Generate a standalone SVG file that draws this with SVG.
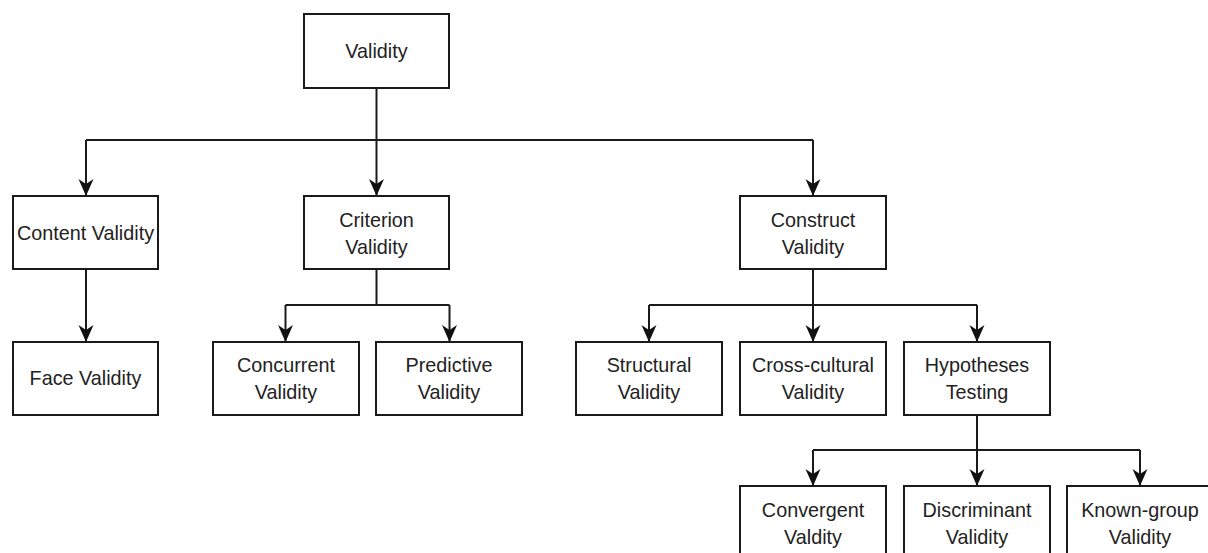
<svg xmlns="http://www.w3.org/2000/svg" width="1208" height="553" viewBox="0 0 1208 553">
  <style>
    .box { fill: #ffffff; stroke: #1a1a1a; stroke-width: 2; }
    .label { font-family: "Liberation Sans", Arial, sans-serif; font-size: 19.8px; fill: #222222; text-anchor: middle; }
    .edge { fill: none; stroke: #1a1a1a; stroke-width: 2; }
  </style>
  <defs>
    <marker id="arrow" viewBox="0 0 17 16" markerWidth="17" markerHeight="16" refX="17" refY="8" orient="auto" markerUnits="userSpaceOnUse">
      <path d="M0,0.5 L17,8 L0,15.5 L5,8 Z" fill="#111111"/>
    </marker>
  </defs>
  <rect width="1208" height="553" fill="#ffffff"/>

  <!-- connectors -->
  <g id="connectors">
    <!-- Validity to its three branches -->
    <path class="edge" d="M376.5,88 V140"/>
    <path class="edge" d="M86,140 H813"/>
    <path class="edge" d="M86,140 V196" marker-end="url(#arrow)"/>
    <path class="edge" d="M376.5,140 V196" marker-end="url(#arrow)"/>
    <path class="edge" d="M813,140 V196" marker-end="url(#arrow)"/>
    <!-- Content -> Face -->
    <path class="edge" d="M86,269 V342" marker-end="url(#arrow)"/>
    <!-- Criterion children -->
    <path class="edge" d="M376.5,269 V305 M285.5,305 H449.5"/>
    <path class="edge" d="M285.5,305 V342" marker-end="url(#arrow)"/>
    <path class="edge" d="M449.5,305 V342" marker-end="url(#arrow)"/>
    <!-- Construct children -->
    <path class="edge" d="M813,269 V305 M649,305 H977"/>
    <path class="edge" d="M649,305 V342" marker-end="url(#arrow)"/>
    <path class="edge" d="M813,305 V342" marker-end="url(#arrow)"/>
    <path class="edge" d="M977,305 V342" marker-end="url(#arrow)"/>
    <!-- Hypotheses Testing children -->
    <path class="edge" d="M977,415 V450 M813,450 H1140"/>
    <path class="edge" d="M813,450 V486" marker-end="url(#arrow)"/>
    <path class="edge" d="M977,450 V486" marker-end="url(#arrow)"/>
    <path class="edge" d="M1140,450 V486" marker-end="url(#arrow)"/>
  </g>

  <g id="validity">
    <rect class="box" x="304" y="14" width="145" height="74"/>
    <text class="label" x="376.5" y="58">Validity</text>
  </g>

  <g id="content-validity">
    <rect class="box" x="13" y="196" width="145" height="73"/>
    <text class="label" x="85.5" y="240">Content Validity</text>
  </g>

  <g id="criterion-validity">
    <rect class="box" x="304" y="196" width="145" height="73"/>
    <text class="label" x="376.5" y="226.5">Criterion</text>
    <text class="label" x="376.5" y="254">Validity</text>
  </g>

  <g id="construct-validity">
    <rect class="box" x="740" y="196" width="146" height="73"/>
    <text class="label" x="813" y="226.5">Construct</text>
    <text class="label" x="813" y="254">Validity</text>
  </g>

  <g id="face-validity">
    <rect class="box" x="13" y="342" width="145" height="73"/>
    <text class="label" x="85.5" y="385">Face Validity</text>
  </g>

  <g id="concurrent-validity">
    <rect class="box" x="213" y="342" width="146" height="73"/>
    <text class="label" x="286" y="372">Concurrent</text>
    <text class="label" x="286" y="399">Validity</text>
  </g>

  <g id="predictive-validity">
    <rect class="box" x="376" y="342" width="146" height="73"/>
    <text class="label" x="449" y="372">Predictive</text>
    <text class="label" x="449" y="399">Validity</text>
  </g>

  <g id="structural-validity">
    <rect class="box" x="576" y="342" width="146" height="73"/>
    <text class="label" x="649" y="372">Structural</text>
    <text class="label" x="649" y="399">Validity</text>
  </g>

  <g id="cross-cultural-validity">
    <rect class="box" x="740" y="342" width="146" height="73"/>
    <text class="label" x="813" y="372">Cross-cultural</text>
    <text class="label" x="813" y="399">Validity</text>
  </g>

  <g id="hypotheses-testing">
    <rect class="box" x="904" y="342" width="146" height="73"/>
    <text class="label" x="977" y="372">Hypotheses</text>
    <text class="label" x="977" y="399">Testing</text>
  </g>

  <g id="convergent-validity">
    <rect class="box" x="740" y="486" width="146" height="73"/>
    <text class="label" x="813" y="517">Convergent</text>
    <text class="label" x="813" y="544">Valdity</text>
  </g>

  <g id="discriminant-validity">
    <rect class="box" x="904" y="486" width="146" height="73"/>
    <text class="label" x="977" y="517">Discriminant</text>
    <text class="label" x="977" y="544">Validity</text>
  </g>

  <g id="known-group-validity">
    <rect class="box" x="1067" y="486" width="146" height="73"/>
    <text class="label" x="1140" y="517">Known-group</text>
    <text class="label" x="1140" y="544">Validity</text>
  </g>
</svg>
